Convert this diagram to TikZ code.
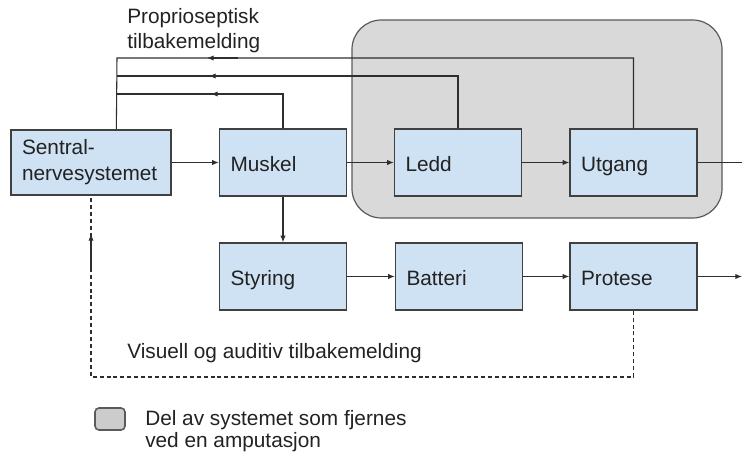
\documentclass[tikz,border=0pt]{standalone}
\usepackage{fontspec}
\setmainfont{Liberation Sans}
\usetikzlibrary{arrows.meta}

\definecolor{boxfill}{HTML}{CFE2F3}
\definecolor{boxline}{HTML}{404040}
\definecolor{regionfill}{HTML}{D9D9D9}
\definecolor{regionline}{HTML}{5A5A5A}
\definecolor{legendfill}{HTML}{CCCCCC}
\definecolor{linecol}{HTML}{2E2E2E}
\definecolor{txt}{HTML}{222222}

\newcommand{\fsz}[1]{\fontsize{15.6pt}{#1}\selectfont}

\begin{document}
\begin{tikzpicture}[
  x=0.75pt, y=-0.75pt,
  every node/.style={font=\fsz{19.5pt}, text=txt},
  block/.style={draw=boxline, fill=boxfill, line width=1pt,
    minimum width=95.25pt, minimum height=50.25pt,
    inner xsep=8.25pt, text width=78.75pt, align=left},
  oneline/.style={text height=13.2pt, text depth=0pt},
  lbl/.style={inner sep=0pt, align=left, anchor=west},
  link/.style={draw=linecol, line width=0.8pt},
  arr/.style={link, -{Latex[length=5pt,width=4pt]}},
  dashln/.style={link, dash pattern=on 3pt off 2.2pt},
]
\useasboundingbox (0,0) rectangle (742,456);

% part of the system removed by an amputation
\draw[fill=regionfill, draw=regionline, line width=0.9pt, rounded corners=22pt]
  (352,20) rectangle (722,218);

% blocks
\node[block, minimum width=120pt, minimum height=48.75pt, text width=103.5pt]
  (sns) at (91,162.5) {Sentral-\\nervesystemet};
\node[block, oneline] (mus) at (283,162.5) {Muskel};
\node[block, oneline] (ledd) at (458,162.5) {Ledd};
\node[block, oneline] (utg) at (633.5,162.5) {Utgang};
\node[block, oneline] (sty) at (283,276.5) {Styring};
\node[block, oneline] (bat) at (459,276.5) {Batteri};
\node[block, oneline] (pro) at (633.5,276.5) {Protese};

% forward chain
\draw[arr] (sns) -- (mus);
\draw[arr] (mus) -- (ledd);
\draw[arr] (ledd) -- (utg);
\draw[arr] (mus) -- (sty);
\draw[arr] (sty) -- (bat);
\draw[arr] (bat) -- (pro);
\coordinate (outA) at (742,162.5);
\coordinate (outB) at (742,276.5);
\draw[link] (utg) -- (outA);
\draw[arr] (pro) -- (outB);

% proprioceptive feedback
\path (sns.north west) ++(106,0) coordinate (snsT);
\coordinate (fbTop) at (117,58);
\coordinate (fbMid) at (117,76);
\coordinate (fbLow) at (117,94);
\draw[link] (utg.north) |- (fbTop) -- (snsT);
\draw[link] (ledd.north) |- (fbMid);
\draw[link] (mus.north) |- (fbLow);
\coordinate (tA1) at (238,58);  \coordinate (tA2) at (207,58);
\coordinate (tB1) at (240,76);  \coordinate (tB2) at (209,76);
\coordinate (tC1) at (242,94);  \coordinate (tC2) at (211,94);
\draw[arr] (tA1) -- (tA2);
\draw[arr] (tB1) -- (tB2);
\draw[arr] (tC1) -- (tC2);

% visual and auditory feedback
\coordinate (dl) at (91,377);
\draw[dashln] (pro.south) |- (dl) -- (sns.south);
\coordinate (tD1) at (91,272); \coordinate (tD2) at (91,234);
\draw[arr] (tD1) -- (tD2);

% labels
\node[lbl, font=\fsz{18.75pt}] (lprop) at (127,30.5) {Proprioseptisk\\tilbakemelding};
\node[lbl] (lvis) at (127,353) {Visuell og auditiv tilbakemelding};

% legend
\draw[fill=legendfill, draw=regionline, line width=1.2pt, rounded corners=3pt]
  (95,408) rectangle (125,430);
\node[lbl, font=\fsz{16.5pt}] (lleg) at (145,431.5) {Del av systemet som fjernes\\ved en amputasjon};
\end{tikzpicture}
\end{document}
